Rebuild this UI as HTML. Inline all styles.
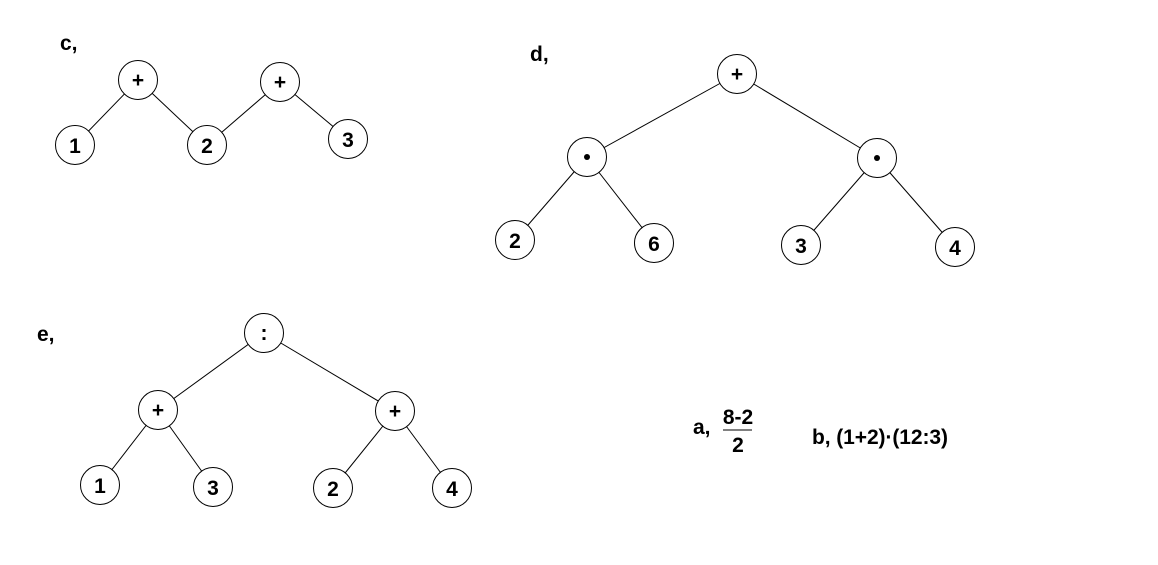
<!DOCTYPE html>
<html><head><style>body{margin:0;background:#fff}svg{display:block}text{font-family:"Liberation Sans",sans-serif;font-weight:bold;font-size:21px;fill:#000}</style></head>
<body>
<svg width="1158" height="565" viewBox="0 0 1158 565">
<g stroke="#000" stroke-width="1">
<line x1="138" y1="80" x2="75" y2="145"/><line x1="138" y1="80" x2="207" y2="145"/>
<line x1="280" y1="82" x2="207" y2="145"/><line x1="280" y1="82" x2="348" y2="139"/>
<line x1="737" y1="74" x2="587" y2="157"/><line x1="737" y1="74" x2="877" y2="158"/>
<line x1="587" y1="157" x2="515" y2="240"/><line x1="587" y1="157" x2="654" y2="243"/>
<line x1="877" y1="158" x2="801" y2="245"/><line x1="877" y1="158" x2="955" y2="247"/>
<line x1="264" y1="333" x2="158" y2="410"/><line x1="264" y1="333" x2="395" y2="411"/>
<line x1="158" y1="410" x2="100" y2="485"/><line x1="158" y1="410" x2="213" y2="487"/>
<line x1="395" y1="411" x2="333" y2="488"/><line x1="395" y1="411" x2="452" y2="488"/>
<line x1="723" y1="430" x2="752" y2="430"/>
</g>
<g fill="#fff" stroke="#000" stroke-width="1">
<circle cx="138" cy="80" r="19.5"/><circle cx="280" cy="82" r="19.5"/>
<circle cx="75" cy="145" r="19.5"/><circle cx="207" cy="145" r="19.5"/><circle cx="348" cy="139" r="19.5"/>
<circle cx="737" cy="74" r="19.5"/><circle cx="587" cy="157" r="19.5"/><circle cx="877" cy="158" r="19.5"/>
<circle cx="515" cy="240" r="19.5"/><circle cx="654" cy="243" r="19.5"/><circle cx="801" cy="245" r="19.5"/><circle cx="955" cy="247" r="19.5"/>
<circle cx="264" cy="333" r="19.5"/><circle cx="158" cy="410" r="19.5"/><circle cx="395" cy="411" r="19.5"/>
<circle cx="100" cy="485" r="19.5"/><circle cx="213" cy="487" r="19.5"/><circle cx="333" cy="488" r="19.5"/><circle cx="452" cy="488" r="19.5"/>
</g>
<g text-anchor="middle">
<text x="138" y="87" font-size="18">+</text><text x="280" y="89" font-size="18">+</text>
<text x="75" y="153">1</text><text x="207" y="153">2</text><text x="348" y="147">3</text>
<text x="737" y="81" font-size="18">+</text>
<circle cx="587" cy="157" r="3"/><circle cx="877" cy="158" r="3"/>
<text x="515" y="248">2</text><text x="654" y="251">6</text><text x="801" y="253">3</text><text x="955" y="255">4</text>
<text x="264" y="340">:</text><text x="158" y="417" font-size="18">+</text><text x="395" y="418" font-size="18">+</text>
<text x="100" y="493">1</text><text x="213" y="495">3</text><text x="333" y="496">2</text><text x="452" y="496">4</text>
<text x="738" y="424" font-size="20">8-2</text><text x="738" y="452" font-size="20">2</text>
</g>
<text x="60" y="50" font-size="19">c,</text>
<text x="530" y="61" font-size="19">d,</text>
<text x="37" y="341" font-size="19">e,</text>
<text x="693" y="434" font-size="19">a,</text>
<text x="812" y="444" font-size="20" textLength="136">b, (1+2)·(12:3)</text>
</svg>
</body></html>
